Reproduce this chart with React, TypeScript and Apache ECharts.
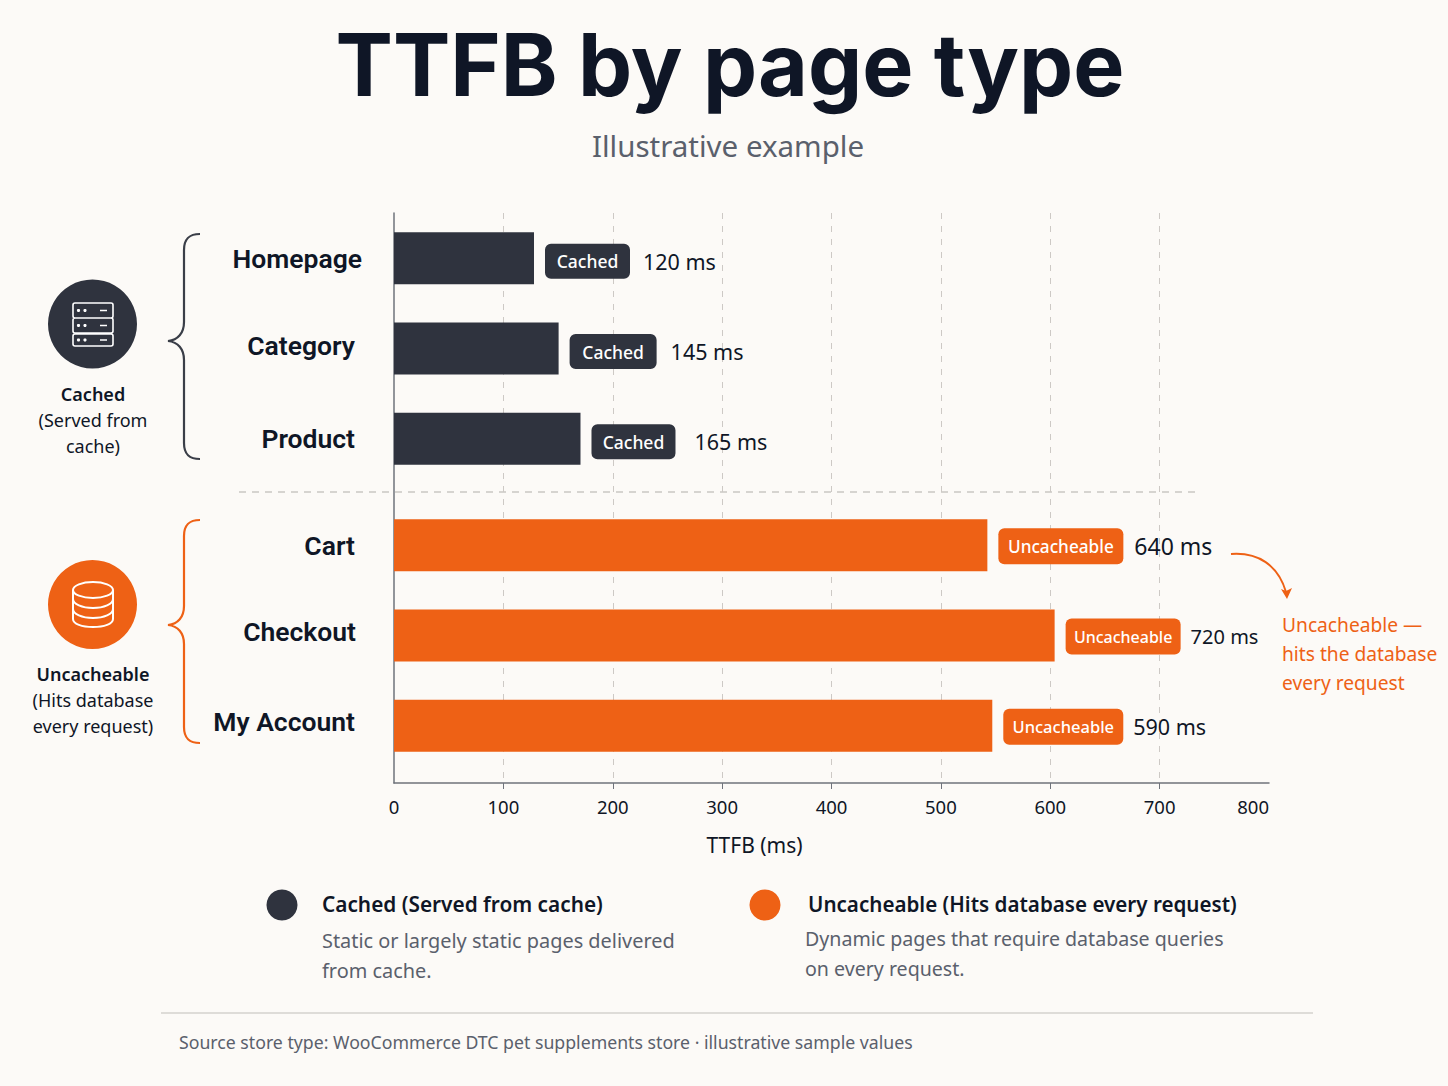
import React, { useEffect, useRef } from "react";
import * as echarts from "echarts";

const titleText = "TTFB by page type";
const subtitleText = "Illustrative example";
const axisTicks = [100, 200, 300, 400, 500, 600, 700];

const cachedPages = ["Homepage", "Category", "Product"];
const uncacheablePages = ["Cart", "Checkout", "My Account"];

// Bar lengths as drawn against the reference's axis.
const cachedBarLengths = [128, 150.5, 170.5];
const uncacheableBarLengths = [542.5, 604, 547];

// Values as printed beside each bar in the reference.
const cachedPrinted = ["120 ms", "145 ms", "165 ms"];
const uncacheablePrinted = ["640 ms", "720 ms", "590 ms"];

const cachedBadge = "Cached";
const uncacheableBadge = "Uncacheable";

const INK = "#0f1626";
const DARK = "#2f333e";
const ORANGE = "#ee6115";
const GREY = "#5a606c";
const BG = "#fcfaf7";
const FONT = '"Noto Sans", sans-serif';
const CAT_FONT = 'Roboto, "Noto Sans", sans-serif';

const BADGE_W_CACHED = [85, 87, 84];
const GAP_CACHED = [13, 14, 19];
const BADGE_FONT_CACHED = [17.5, 17.5, 17.5];
const VALUE_FONT_CACHED = [21.5, 21.5, 21.5];
const BADGE_W_UNC = [125, 115, 120];
const GAP_UNC = [11, 10, 10];
const BADGE_FONT_UNC = [17.2, 16, 16.5];
const VALUE_FONT_UNC = [23, 20, 21.5];

// Row-by-row nudges of the category labels: [bottom padding, right padding].
const CAT_NUDGE_CACHED = [[0, 0], [6, 7], [0, 7]];
const CAT_NUDGE_UNC = [[0, 7], [8, 6], [8, 7]];

const serverPath =
  "M75 303H111a2 2 0 0 1 2 2V316a2 2 0 0 1 -2 2H75a2 2 0 0 1 -2 -2V305a2 2 0 0 1 2 -2Z" +
  "M75 318H111a2 2 0 0 1 2 2V331a2 2 0 0 1 -2 2H75a2 2 0 0 1 -2 -2V320a2 2 0 0 1 2 -2Z" +
  "M75 334H111a2 2 0 0 1 2 2V344a2 2 0 0 1 -2 2H75a2 2 0 0 1 -2 -2V336a2 2 0 0 1 2 -2Z" +
  "M100 310.5H107M100 325.5H107M100 340H107";
const dbPath =
  "M73 590A20 8 0 1 0 113 590A20 8 0 1 0 73 590Z" +
  "M73 590V619C73 624 82 627 93 627C104 627 113 624 113 619V590" +
  "M73 599C73 604 82 608 93 608C104 608 113 604 113 599" +
  "M73 609C73 614 82 618 93 618C104 618 113 614 113 609";
const braceTop =
  "M200 234C190 234 184 238 184 250V322C184 333 178 340 168 341C178 342 184 349 184 360V443C184 455 190 459 200 459";
const braceBottom =
  "M200 520C190 520 184 524 184 536V606C184 617 178 624 168 625C178 626 184 633 184 644V727C184 739 190 743 200 743";

echarts.graphic.registerShape("serverIcon", echarts.graphic.extendPath(serverPath, {}));
echarts.graphic.registerShape("dbIcon", echarts.graphic.extendPath(dbPath, {}));
echarts.graphic.registerShape("braceTop", echarts.graphic.extendPath(braceTop, {}));
echarts.graphic.registerShape("braceBottom", echarts.graphic.extendPath(braceBottom, {}));

const txt = (text: string, x: number, y: number, fontSize: number, fill: string, fontWeight: number | string = 400, align = "left") => ({
  type: "text",
  x,
  y,
  silent: true,
  style: { text, fill, fontSize, fontWeight, fontFamily: FONT, align, verticalAlign: "middle" },
});

function rowLabel(badges: string, printed: string[], color: string, widths: number[], gaps: number[], badgeFonts: number[], valueFonts: number[], offsetY: number, h: number) {
  const rich: any = {};
  printed.forEach((_, i) => {
    rich["b" + i] = {
      backgroundColor: color, color: "#fff", borderRadius: 6, width: widths[i], height: h,
      align: "center", verticalAlign: "middle", fontSize: badgeFonts[i], fontWeight: 500, fontFamily: FONT, lineHeight: h,
    };
    rich["g" + i] = { width: gaps[i], height: h };
    rich["v" + i] = { fontSize: valueFonts[i], color: INK, fontFamily: FONT, fontWeight: 400, verticalAlign: "middle" };
  });
  return {
    show: true,
    position: "right",
    distance: 11,
    offset: [0, offsetY],
    formatter: (p: any) => `{b${p.dataIndex}|${badges}}{g${p.dataIndex}|}{v${p.dataIndex}|${printed[p.dataIndex]}}`,
    rich,
  };
}

const hiddenX = { show: false, type: "value", min: 0, max: 800 };
const catAxis = (grid: number, data: string[], nudges: number[][]) => {
  const rich: any = {};
  data.forEach((_, i) => {
    rich["c" + i] = {
      fontSize: 26.5, fontWeight: 600, color: INK, fontFamily: CAT_FONT,
      padding: [0, nudges[i][1], nudges[i][0], 0],
    };
  });
  return {
    type: "category",
    gridIndex: grid,
    data,
    inverse: true,
    axisLine: { show: false },
    axisTick: { show: false },
    axisLabel: {
      margin: 32,
      formatter: (v: string) => `{c${data.indexOf(v)}|${v}}`,
      rich,
    },
  };
};

export default function App() {
  const ref = useRef<HTMLDivElement>(null);
  useEffect(() => {
    document.body.style.margin = "0";
    document.body.style.background = BG;
    const chart = echarts.init(ref.current!, null, { renderer: "svg" });
    chart.setOption({
      animation: false,
      backgroundColor: BG,
      title: [
        { text: titleText, left: 725, top: 17, textAlign: "center", textStyle: { fontSize: 86, fontWeight: 700, color: INK, fontFamily: "Inter, sans-serif" } },
        { text: subtitleText, left: 723, top: 125, textAlign: "center", textStyle: { fontSize: 29.5, fontWeight: 400, color: GREY, fontFamily: FONT } },
      ],
      grid: [
        { left: 394, top: 213, width: 875, height: 570 },
        { left: 394, top: 213, width: 875, height: 271 },
        { left: 394, top: 500, width: 875, height: 271 },
      ],
      xAxis: [
        {
          type: "value", gridIndex: 0, min: 0, max: 800, interval: 100,
          axisLine: { show: true, lineStyle: { color: "#6f737b", width: 1.5 } },
          axisTick: { show: true, length: 6, customValues: axisTicks, lineStyle: { color: "#6f737b" } },
          axisLabel: { fontSize: 18.5, color: INK, fontFamily: FONT, margin: 14, alignMaxLabel: "right" },
          splitLine: { show: true, showMinLine: true, showMaxLine: true, lineStyle: { type: [6, 7], color: "#cdc9c5", width: 1 } },
          name: "TTFB (ms)",
          nameLocation: "middle",
          nameGap: 51,
          nameTextStyle: { fontSize: 21, color: INK, fontFamily: FONT, padding: [0, 154, 0, 0] },
        },
        { ...hiddenX, gridIndex: 1 },
        { ...hiddenX, gridIndex: 2 },
      ],
      yAxis: [
        {
          type: "value", gridIndex: 0, min: 0, max: 1,
          axisLine: { show: true, lineStyle: { color: "#6f737b", width: 1.5 } },
          axisTick: { show: false }, axisLabel: { show: false }, splitLine: { show: false },
        },
        catAxis(1, cachedPages, CAT_NUDGE_CACHED),
        catAxis(2, uncacheablePages, CAT_NUDGE_UNC),
      ],
      series: [
        {
          type: "bar", xAxisIndex: 1, yAxisIndex: 1, barWidth: 52, data: cachedBarLengths,
          itemStyle: { color: DARK },
          label: rowLabel(cachedBadge, cachedPrinted, DARK, BADGE_W_CACHED, GAP_CACHED, BADGE_FONT_CACHED, VALUE_FONT_CACHED, 3, 35),
        },
        {
          type: "bar", xAxisIndex: 2, yAxisIndex: 2, barWidth: 52, data: uncacheableBarLengths,
          itemStyle: { color: ORANGE },
          label: rowLabel(uncacheableBadge, uncacheablePrinted, ORANGE, BADGE_W_UNC, GAP_UNC, BADGE_FONT_UNC, VALUE_FONT_UNC, 1, 36),
        },
      ],
      graphic: [
        { type: "line", silent: true, shape: { x1: 239, y1: 492, x2: 1198, y2: 492 }, style: { stroke: "#b0adaa", lineWidth: 1.2, lineDash: [7, 6] } },
        { type: "braceTop", silent: true, x: 0, y: 0, style: { fill: "none", stroke: "#3a3e48", lineWidth: 2.2 } },
        { type: "braceBottom", silent: true, x: 0, y: 0, style: { fill: "none", stroke: ORANGE, lineWidth: 2.2 } },
        { type: "circle", silent: true, shape: { cx: 92.5, cy: 324, r: 44.5 }, style: { fill: DARK } },
        { type: "serverIcon", silent: true, x: 0, y: 0, style: { fill: "none", stroke: "#fff", lineWidth: 1.6 } },
        ...[310.5, 325.5, 340].flatMap((cy) => [78.5, 85].map((cx) => ({ type: "circle", silent: true, shape: { cx, cy, r: 1.6 }, style: { fill: "#fff" } }))),
        { type: "circle", silent: true, shape: { cx: 92.5, cy: 604.5, r: 44.5 }, style: { fill: ORANGE } },
        { type: "dbIcon", silent: true, x: 0, y: 0, style: { fill: "none", stroke: "#fff", lineWidth: 2 } },
        txt("Cached", 93, 394, 18, INK, 600, "center"),
        txt("(Served from", 93, 420, 18, INK, 400, "center"),
        txt("cache)", 93, 446, 18, INK, 400, "center"),
        txt("Uncacheable", 93, 674, 18, INK, 600, "center"),
        txt("(Hits database", 93, 700, 18, INK, 400, "center"),
        txt("every request)", 93, 726, 18, INK, 400, "center"),
        { type: "bezierCurve", silent: true, shape: { x1: 1231, y1: 554, cpx1: 1258, cpy1: 552, cpx2: 1278, cpy2: 565, x2: 1286, y2: 592 }, style: { fill: "none", stroke: ORANGE, lineWidth: 2 } },
        { type: "polygon", silent: true, shape: { points: [[1281, 589], [1287, 599], [1292, 588], [1286, 591]] }, style: { fill: ORANGE } },
        txt("Uncacheable —", 1282, 624, 19.2, ORANGE),
        txt("hits the database", 1282, 653, 19.2, ORANGE),
        txt("every request", 1282, 682, 19.2, ORANGE),
        { type: "circle", silent: true, shape: { cx: 282, cy: 905, r: 15.5 }, style: { fill: DARK } },
        txt("Cached (Served from cache)", 322, 904, 20.8, INK, 600),
        txt("Static or largely static pages delivered", 322, 940, 19.9, GREY),
        txt("from cache.", 322, 970, 19.9, GREY),
        { type: "circle", silent: true, shape: { cx: 765, cy: 905, r: 15.5 }, style: { fill: ORANGE } },
        txt("Uncacheable (Hits database every request)", 808, 904, 20.6, INK, 600),
        txt("Dynamic pages that require database queries", 805, 938, 19.6, GREY),
        txt("on every request.", 805, 968, 19.6, GREY),
        { type: "line", silent: true, shape: { x1: 161, y1: 1013, x2: 1313, y2: 1013 }, style: { stroke: "#d5d2ce", lineWidth: 1.5 } },
        txt("Source store type: WooCommerce DTC pet supplements store · illustrative sample values", 179, 1042, 17.7, GREY),
      ],
    });
    return () => chart.dispose();
  }, []);
  return <div ref={ref} style={{ position: "fixed", left: 0, top: 0, width: 1448, height: 1086 }} />;
}
